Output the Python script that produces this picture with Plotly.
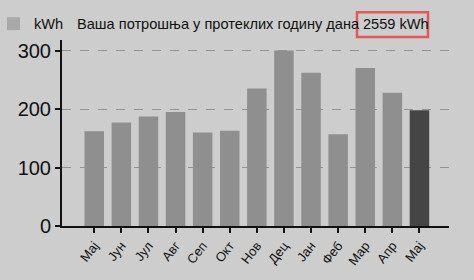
import plotly.graph_objects as go

months = ["Мај", "Јун", "Јул", "Авг", "Сеп", "Окт", "Нов", "Дец", "Јан", "Феб", "Мар", "Апр", "Мај"]
kwh = [162, 177, 187, 195, 160, 163, 235, 300, 262, 157, 270, 228, 198]
bar_colors = ["#8f8f8f"] * 12 + ["#454545"]
y_ticks = [0, 100, 200, 300]
unit = "kWh"
title_text = "Ваша потрошња у протеклих годину дана"
total_text = "2559 kWh"

L, R, T, B = 62, 25, 40, 52
W, H = 474, 280
pw, ph = W - L - R, H - T - B


def px(x):
    return (x - L) / pw


def py(y):
    return (H - B - y) / ph


xs = list(range(len(months)))
fig = go.Figure(go.Bar(x=xs, y=kwh, marker=dict(color=bar_colors, line=dict(width=0)), width=0.72))

font = "Liberation Sans, Arial, sans-serif"
fig.update_layout(
    width=W, height=H,
    margin=dict(l=L, r=R, t=T, b=B),
    paper_bgcolor="#cdcdcd", plot_bgcolor="#cdcdcd",
    showlegend=False,
    font=dict(family=font, color="#111111"),
)
fig.update_xaxes(
    range=[-1.19, 13.09], tickvals=xs, ticktext=months, tickangle=-52,
    showgrid=False, zeroline=False, showline=True, linecolor="#111111", linewidth=2,
    ticks="outside", ticklen=5, tickwidth=2, tickcolor="#111111",
    tickfont=dict(size=13, family=font, color="#111111"),
)
fig.update_yaxes(
    range=[0, 318], tickvals=y_ticks, showgrid=True, gridcolor="#929292", griddash="dash", gridwidth=1,
    zeroline=False, showline=True, linecolor="#111111", linewidth=2,
    ticks="outside", ticklen=5, tickwidth=2, tickcolor="#111111",
    tickfont=dict(size=20, family=font, color="#111111"),
)
fig.add_shape(type="rect", xref="paper", yref="paper", x0=px(7), x1=px(20), y0=py(30), y1=py(17),
              fillcolor="#a8a8a8", line=dict(width=0))
fig.add_shape(type="rect", xref="paper", yref="paper", x0=px(357), x1=px(428), y0=py(37), y1=py(12),
              fillcolor="rgba(0,0,0,0)", line=dict(color="#e05a5c", width=2.5))
for txt, x0 in [(unit, 32), (title_text, 75), (total_text, 361)]:
    fig.add_annotation(text=txt, xref="paper", yref="paper", x=px(x0), y=py(24),
                       xanchor="left", yanchor="middle", showarrow=False,
                       font=dict(size=14.6, family=font, color="#111111"))
fig.write_html("out.html")
